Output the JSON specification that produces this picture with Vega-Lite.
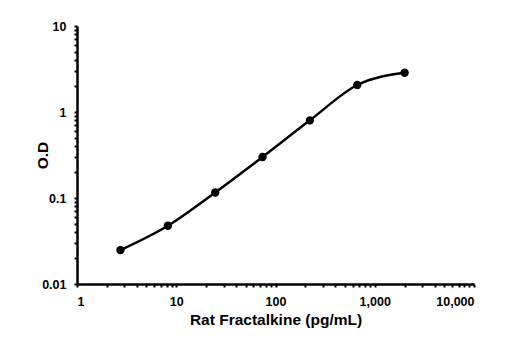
{
  "$schema": "https://vega.github.io/schema/vega-lite/v6.json",
  "width": 397,
  "height": 258,
  "autosize": {"type": "none"},
  "padding": {"left": 77, "top": 26, "right": 32, "bottom": 54},
  "background": "white",
  "config": {
    "view": {"stroke": null},
    "font": "Liberation Sans",
    "axis": {
      "domainColor": "black",
      "domainWidth": 2.5,
      "tickColor": "black",
      "tickWidth": 2,
      "tickSize": 3,
      "grid": false,
      "labelFont": "Liberation Sans",
      "labelFontWeight": "bold",
      "labelFontSize": 12.5,
      "labelColor": "black",
      "titleFont": "Liberation Sans",
      "titleFontWeight": "bold",
      "titleFontSize": 15.5,
      "titleColor": "black",
      "labelOverlap": false
    }
  },
  "data": {
    "values": [
      {"conc": 2.74, "od": 0.0248},
      {"conc": 8.23, "od": 0.0476},
      {"conc": 24.69, "od": 0.116},
      {"conc": 74.07, "od": 0.30},
      {"conc": 222.2, "od": 0.80},
      {"conc": 666.7, "od": 2.06},
      {"conc": 2000, "od": 2.86}
    ]
  },
  "encoding": {
    "x": {
      "field": "conc",
      "type": "quantitative",
      "scale": {"type": "log", "domain": [1, 10000], "nice": false},
      "axis": {
        "title": "Rat Fractalkine (pg/mL)",
        "titlePadding": 5,
        "labelPadding": 8,
        "values": [1,2,3,4,5,6,7,8,9,10,20,30,40,50,60,70,80,90,100,200,300,400,500,600,700,800,900,1000,2000,3000,4000,5000,6000,7000,8000,9000,10000],
        "labelExpr": "indexof([1,10,100,1000,10000], datum.value) >= 0 ? format(datum.value, ',') : ''"
      }
    },
    "y": {
      "field": "od",
      "type": "quantitative",
      "scale": {"type": "log", "domain": [0.01, 10], "nice": false},
      "axis": {
        "title": "O.D",
        "titleX": -27,
        "titleY": 129,
        "titleAngle": 270,
        "titleAlign": "center",
        "titleBaseline": "bottom",
        "labelPadding": 8,
        "values": [0.01,0.02,0.03,0.04,0.05,0.06,0.07,0.08,0.09,0.1,0.2,0.3,0.4,0.5,0.6,0.7,0.8,0.9,1,2,3,4,5,6,7,8,9,10],
        "labelExpr": "datum.value == 0.01 ? '0.01' : datum.value == 0.1 ? '0.1' : datum.value == 1 ? '1' : datum.value == 10 ? '10' : ''"
      }
    }
  },
  "layer": [
    {"mark": {"type": "line", "color": "black", "strokeWidth": 2.5, "interpolate": "monotone"}},
    {"mark": {"type": "point", "filled": true, "color": "black", "opacity": 1, "size": 70}}
  ]
}
